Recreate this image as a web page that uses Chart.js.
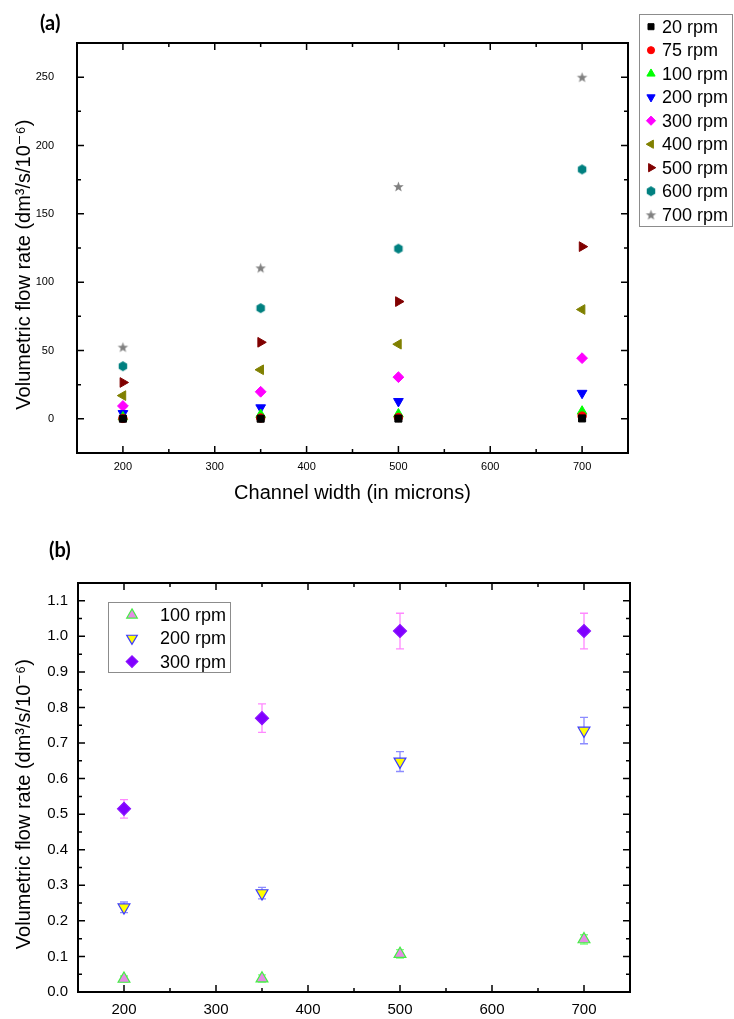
<!DOCTYPE html>
<html>
<head>
<meta charset="utf-8">
<script src="https://cdn.jsdelivr.net/npm/chart.js@4.4.0/dist/chart.umd.min.js"></script>
<style>
  body { margin: 0; background: #fff; width: 734px; height: 1019px; position: relative; overflow: hidden; }
  .panel { position: absolute; left: 0; width: 734px; }
  .panel canvas { display: block; }
  .tag { position: absolute; font-family: Lato, 'Open Sans', sans-serif; font-weight: bold; font-size: 20px; line-height: 24px; color: #000; z-index: 2; }
</style>
</head>
<body>
<div class="tag" style="left:40px;top:10px">(a)</div>
<div class="panel" style="top:0;height:510px"><canvas id="chartA" width="734" height="510"></canvas></div>
<div class="tag" style="left:49px;top:537px">(b)</div>
<div class="panel" style="top:510px;height:509px"><canvas id="chartB" width="734" height="509"></canvas></div>

<script>
// ---------- data, panel (a) ----------
const widths = [200, 350, 500, 700];
const rpm20  = [0.1, 0.1, 0.2, 0.3];
const rpm75  = [0.3, 0.6, 1.0, 2.0];
const rpm100 = [1.3, 3.1, 3.5, 5.5];
const rpm200 = [4.0, 8.2, 12.8, 18.8];
const rpm300 = [9.4, 19.8, 30.5, 44.4];
const rpm400 = [17.0, 35.9, 54.6, 80.0];
const rpm500 = [26.6, 56.0, 85.8, 126.0];
const rpm600 = [38.5, 81.0, 124.5, 182.5];
const rpm700 = [52.5, 110.5, 170.0, 250.0];

// ---------- data, panel (b) (with error bars) ----------
const lowRpm100 = [0.037, 0.038, 0.107, 0.148];
const lowErr100 = [0.008, 0.010, 0.012, 0.013];
const lowRpm200 = [0.238, 0.278, 0.648, 0.735];
const lowErr200 = [0.015, 0.016, 0.028, 0.037];
const lowRpm300 = [0.515, 0.770, 1.015, 1.015];
const lowErr300 = [0.026, 0.040, 0.050, 0.050];

// ---------- ticks ----------
const xTicks = [200, 300, 400, 500, 600, 700];
const xMinorTicks = [250, 350, 450, 550, 650];
const yTicksA = [0, 50, 100, 150, 200, 250];
const yMinorA = [25, 75, 125, 175, 225];
const yTicksB = [0, 0.1, 0.2, 0.3, 0.4, 0.5, 0.6, 0.7, 0.8, 0.9, 1.0, 1.1];
const yMinorB = [0.05, 0.15, 0.25, 0.35, 0.45, 0.55, 0.65, 0.75, 0.85, 0.95, 1.05];

const FONT = "'Liberation Sans', Arial, 'DejaVu Sans', sans-serif";
const yTitle = 'Volumetric flow rate (dm\u00b3/s/10\u207b\u2076)      ';

// little canvases for the marker shapes Chart.js does not have
function hexagon(color, r) {
    const c = document.createElement('canvas');
    const s = Math.ceil(r * 2 + 2);
    c.width = s; c.height = s;
    const g = c.getContext('2d');
    g.fillStyle = color;
    g.beginPath();
    for (let k = 0; k < 6; k++) {
        const a = Math.PI / 6 + k * Math.PI / 3;
        g.lineTo(s / 2 + r * Math.cos(a), s / 2 + r * Math.sin(a));
    }
    g.closePath();
    g.fill();
    return c;
}
function star(color, r) {
    const c = document.createElement('canvas');
    const s = Math.ceil(r * 2 + 2);
    c.width = s; c.height = s;
    const g = c.getContext('2d');
    g.fillStyle = color;
    g.beginPath();
    for (let k = 0; k < 10; k++) {
        const rr = k % 2 === 0 ? r : r * 0.42;
        const a = -Math.PI / 2 + k * Math.PI / 5;
        g.lineTo(s / 2 + rr * Math.cos(a), s / 2 + 0.5 + rr * Math.sin(a));
    }
    g.closePath();
    g.fill();
    return c;
}

function pts(ys) {
    return widths.map((w, i) => ({ x: w, y: ys[i] }));
}

// frame round the plot area + inward ticks on all four sides
const frameTicks = {
    id: 'frameTicks',
    afterDraw(chart, args, o) {
        const { ctx, chartArea: a, scales: { x, y } } = chart;
        ctx.save();
        ctx.strokeStyle = '#000';
        ctx.lineWidth = 1.5;
        ctx.beginPath();
        const xs = (list, len) => list.forEach(v => {
            const p = x.getPixelForValue(v);
            ctx.moveTo(p, a.bottom); ctx.lineTo(p, a.bottom - len);
            ctx.moveTo(p, a.top); ctx.lineTo(p, a.top + len);
        });
        const ys = (list, len) => list.forEach(v => {
            const p = y.getPixelForValue(v);
            ctx.moveTo(a.left, p); ctx.lineTo(a.left + len, p);
            ctx.moveTo(a.right, p); ctx.lineTo(a.right - len, p);
        });
        xs(o.xMajor, 7); xs(o.xMinor, 4);
        ys(o.yMajor, 7); ys(o.yMinor, 4);
        ctx.stroke();
        ctx.lineWidth = 2;
        ctx.strokeRect(a.left, a.top, a.right - a.left, a.bottom - a.top);
        ctx.restore();
    }
};

// vertical error bars, drawn behind the markers
const errorBars = {
    id: 'errorBars',
    beforeDatasetsDraw(chart) {
        const { ctx, scales: { y } } = chart;
        chart.data.datasets.forEach((ds, i) => {
            if (!ds.errors) return;
            const meta = chart.getDatasetMeta(i);
            ctx.save();
            ctx.strokeStyle = ds.errorColor;
            ctx.lineWidth = 1.3;
            meta.data.forEach((pt, j) => {
                const v = ds.data[j].y, e = ds.errors[j];
                const top = y.getPixelForValue(v + e), bot = y.getPixelForValue(v - e);
                ctx.beginPath();
                ctx.moveTo(pt.x, top); ctx.lineTo(pt.x, bot);
                ctx.moveTo(pt.x - 4, top); ctx.lineTo(pt.x + 4, top);
                ctx.moveTo(pt.x - 4, bot); ctx.lineTo(pt.x + 4, bot);
                ctx.stroke();
            });
            ctx.restore();
        });
    }
};

// legend in a thin grey box
const boxLegend = {
    id: 'boxLegend',
    afterDraw(chart, args, o) {
        const ctx = chart.ctx;
        ctx.save();
        ctx.strokeStyle = '#8c8c8c';
        ctx.lineWidth = 1;
        ctx.strokeRect(o.box[0] + 0.5, o.box[1] + 0.5, o.box[2], o.box[3]);
        ctx.font = o.font;
        ctx.textBaseline = 'middle';
        chart.data.datasets.forEach((ds, i) => {
            const cy = o.firstRow + i * o.rowH;
            ctx.fillStyle = ds.backgroundColor;
            ctx.strokeStyle = ds.borderColor;
            ctx.lineWidth = ds.borderWidth;
            Chart.helpers.drawPoint(ctx, {
                pointStyle: ds.pointStyle,
                rotation: ds.rotation || 0,
                radius: ds.pointRadius * o.scale,
                borderWidth: ds.borderWidth
            }, o.markerX, cy);
            ctx.fillStyle = '#000';
            ctx.fillText(ds.label, o.textX, cy + 1);
        });
        ctx.restore();
    }
};

function series(label, ys, color, style, radius, rotation) {
    return {
        label: label, data: pts(ys), pointStyle: style, rotation: rotation || 0,
        pointRadius: radius, pointHoverRadius: radius,
        backgroundColor: color, borderColor: color, borderWidth: 1, showLine: false
    };
}

function axes(opt) {
    return {
        x: {
            type: 'linear', min: 150, max: 750,
            afterBuildTicks: s => { s.ticks = xTicks.map(v => ({ value: v })); },
            afterFit: s => { s.height = opt.xHeight; },
            grid: { display: false, drawTicks: false },
            border: { display: false },
            ticks: { autoSkip: false, maxRotation: 0, padding: opt.xPad, color: '#000', font: { family: FONT, size: opt.tickSize } },
            title: opt.xTitle ? { display: true, text: opt.xTitle, color: '#000', font: { family: FONT, size: 20 }, padding: { top: 0, bottom: 5 } } : { display: false }
        },
        y: {
            type: 'linear', min: opt.yMin, max: opt.yMax,
            afterBuildTicks: s => { s.ticks = opt.yTicks.map(v => ({ value: v })); },
            afterFit: s => { s.width = opt.yWidth; },
            grid: { display: false, drawTicks: false },
            border: { display: false },
            ticks: { padding: opt.yPad, color: '#000', font: { family: FONT, size: opt.tickSize }, callback: opt.yFmt },
            title: { display: true, text: yTitle, color: '#000', font: { family: FONT, size: 20 }, padding: { top: 12, bottom: 0 } }
        }
    };
}

Chart.defaults.animation = false;

new Chart(document.getElementById('chartA'), {
    type: 'scatter',
    data: {
        datasets: [
            series('20 rpm', rpm20, '#000000', 'rect', 5),
            series('75 rpm', rpm75, '#ff0000', 'circle', 4.2),
            series('100 rpm', rpm100, '#00ff00', 'triangle', 5.6),
            series('200 rpm', rpm200, '#0000ff', 'triangle', 5.6, 180),
            series('300 rpm', rpm300, '#ff00ff', 'rectRot', 5.4),
            series('400 rpm', rpm400, '#808000', 'triangle', 5.6, 270),
            series('500 rpm', rpm500, '#800000', 'triangle', 5.6, 90),
            series('600 rpm', rpm600, '#008080', hexagon('#008080', 4.9), 5),
            series('700 rpm', rpm700, '#808080', star('#808080', 5.5), 5.5)
        ]
    },
    options: {
        responsive: false,
        layout: { padding: { left: 0, top: 43, right: 106, bottom: 0 } },
        plugins: {
            legend: { display: false },
            tooltip: { enabled: false },
            frameTicks: { xMajor: xTicks, xMinor: xMinorTicks, yMajor: yTicksA, yMinor: yMinorA },
            boxLegend: { box: [639, 14, 93, 212], font: '18px ' + FONT, firstRow: 26.7, rowH: 23.5, markerX: 651, textX: 662, scale: 0.85 }
        },
        scales: axes({
            xHeight: 57, yWidth: 77, xPad: 7, yPad: 23, tickSize: 11,
            xTitle: 'Channel width (in microns)',
            yMin: -25, yMax: 275, yTicks: yTicksA, yFmt: v => String(v)
        })
    },
    plugins: [errorBars, frameTicks, boxLegend]
});

const dsB = (label, ys, errs, fill, border, errColor, style, radius, rotation) => ({
    label: label, data: pts(ys), errors: errs, errorColor: errColor,
    pointStyle: style, rotation: rotation || 0, pointRadius: radius, pointHoverRadius: radius,
    backgroundColor: fill, borderColor: border, borderWidth: 1.2, showLine: false
});

new Chart(document.getElementById('chartB'), {
    type: 'scatter',
    data: {
        datasets: [
            dsB('100 rpm', lowRpm100, lowErr100, '#e58be5', '#44ee44', '#80ff80', 'triangle', 6.8),
            dsB('200 rpm', lowRpm200, lowErr200, '#ffff00', '#3b3bff', '#8c8cff', 'triangle', 6.8, 180),
            dsB('300 rpm', lowRpm300, lowErr300, '#8000ff', '#8a10ff', '#ff88ff', 'rectRot', 6.5)
        ]
    },
    options: {
        responsive: false,
        layout: { padding: { left: 0, top: 73, right: 104, bottom: 0 } },
        plugins: {
            legend: { display: false },
            tooltip: { enabled: false },
            frameTicks: { xMajor: xTicks, xMinor: xMinorTicks, yMajor: yTicksB, yMinor: yMinorB },
            boxLegend: { box: [108, 92, 122, 70], font: '18px ' + FONT, firstRow: 105, rowH: 23.3, markerX: 132, textX: 160, scale: 0.9 }
        },
        scales: axes({
            xHeight: 27, yWidth: 78, xPad: 9, yPad: 10, tickSize: 15,
            xTitle: null,
            yMin: 0, yMax: 1.15, yTicks: yTicksB, yFmt: v => v.toFixed(1)
        })
    },
    plugins: [errorBars, frameTicks, boxLegend]
});
</script>
</body>
</html>
